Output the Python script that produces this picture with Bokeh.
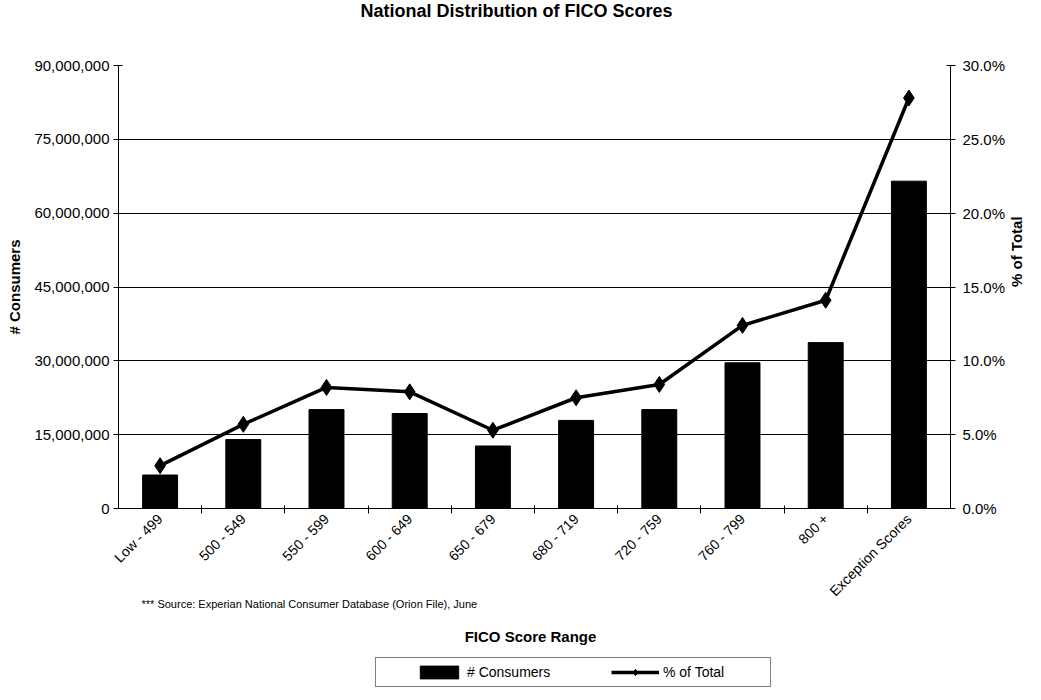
import math
import numpy as np
from bokeh.plotting import figure
from bokeh.layouts import column
from bokeh.models import (Range1d, LinearAxis, FixedTicker, NumeralTickFormatter,
                          PrintfTickFormatter, Legend, LegendItem, Title, Label,
                          ColumnDataSource)
from bokeh.embed import file_html
from bokeh.resources import INLINE

# ---------------- data ----------------
categories = ["Low - 499", "500 - 549", "550 - 599", "600 - 649", "650 - 679",
              "680 - 719", "720 - 759", "760 - 799", "800 +", "Exception Scores"]
consumers = [6.8e6, 14.0e6, 20.1e6, 19.3e6, 12.7e6, 17.9e6, 20.1e6, 29.6e6, 33.7e6, 66.5e6]
pct_of_total = [2.9, 5.7, 8.2, 7.9, 5.3, 7.5, 8.4, 12.4, 14.1, 27.8]
left_ticks = [0, 15e6, 30e6, 45e6, 60e6, 75e6, 90e6]
grid_ticks = [15e6, 30e6, 45e6, 60e6, 75e6]
right_ticks = [0, 5, 10, 15, 20, 25, 30]

title_text = "National Distribution of FICO Scores"
source_text = "*** Source: Experian National Consumer Database (Orion File), June"
x_title = "FICO Score Range"
left_title = "# Consumers"
right_title = "% of Total"
legend_labels = ["# Consumers", "% of Total"]

FONT = "Liberation Sans"

n = len(categories)
xc = (np.arange(n) + 0.5).tolist()
src = ColumnDataSource(dict(x=xc, consumers=consumers, pct=pct_of_total))

# ---------------- main chart ----------------
p = figure(frame_width=832, frame_height=443, x_range=Range1d(0, n), y_range=Range1d(0, 90e6),
           output_backend="svg", toolbar_location=None,
           min_border_left=118, min_border_right=80, min_border_top=0, min_border_bottom=104)
p.extra_y_ranges = {"pct": Range1d(0, 30)}
p.outline_line_color = None
p.background_fill_color = "white"
p.border_fill_color = "white"

bars = p.vbar(x="x", top="consumers", width=0.42, source=src,
              fill_color="black", line_color="black")
ln = p.line("x", "pct", source=src, y_range_name="pct", line_color="black", line_width=3.5)
pts = p.scatter("x", "pct", source=src, y_range_name="pct", marker="diamond", size=16,
                fill_color="black", line_color="black")

# x axis (tick marks between categories, labels at centres)
xa = p.xaxis[0]
xa.ticker = FixedTicker(ticks=xc, minor_ticks=list(range(1, n)))
xa.major_label_overrides = {float(v): c for v, c in zip(xc, categories)}
xa.major_label_orientation = math.pi / 4
xa.major_tick_in = 0
xa.major_tick_out = 0
xa.minor_tick_in = 3
xa.minor_tick_out = 5
xa.minor_tick_line_color = "black"
xa.axis_line_color = "black"
xa.major_label_text_font = FONT
xa.major_label_text_font_size = "14px"
xa.major_label_text_color = "black"
xa.major_label_standoff = 3

# left axis
ya = p.yaxis[0]
ya.ticker = FixedTicker(ticks=left_ticks)
ya.formatter = NumeralTickFormatter(format="0,0")
ya.major_tick_in = 4
ya.major_tick_out = 5
ya.minor_tick_line_color = None
ya.axis_line_color = "black"
ya.major_tick_line_color = "black"
ya.major_label_text_font = FONT
ya.major_label_text_font_size = "15px"
ya.major_label_text_color = "black"
ya.major_label_standoff = 4
ya.axis_label = left_title
ya.axis_label_text_font = FONT
ya.axis_label_text_font_size = "15px"
ya.axis_label_text_font_style = "bold"
ya.axis_label_text_color = "black"
ya.axis_label_standoff = 8

# right axis
ra = LinearAxis(y_range_name="pct", ticker=FixedTicker(ticks=right_ticks),
                formatter=PrintfTickFormatter(format="%.1f%%"), axis_label=right_title)
ra.major_tick_in = 4
ra.major_tick_out = 5
ra.minor_tick_line_color = None
ra.axis_line_color = "black"
ra.major_tick_line_color = "black"
ra.major_label_text_font = FONT
ra.major_label_text_font_size = "15px"
ra.major_label_text_color = "black"
ra.major_label_standoff = 7
ra.axis_label_text_font = FONT
ra.axis_label_text_font_size = "15px"
ra.axis_label_text_font_style = "bold"
ra.axis_label_text_color = "black"
ra.axis_label_standoff = 8
ra.axis_label_orientation = math.pi / 2
p.add_layout(ra, "right")

# grid
p.xgrid.visible = False
p.ygrid.ticker = FixedTicker(ticks=grid_ticks)
p.ygrid.grid_line_color = "black"
p.ygrid.grid_line_alpha = 1.0
p.ygrid.grid_line_width = 1

# top: spacer (nearest the frame) then the chart title
p.add_layout(Title(text=" ", text_font_size="1px", standoff=40), "above")
p.add_layout(Title(text=title_text, align="left", offset=242, vertical_align="top", standoff=0,
                   text_font=FONT, text_font_size="18px", text_font_style="bold",
                   text_color="black"), "above")

# ---------------- footer: source note, x title, legend ----------------
# transparent strip pulled up slightly under the rotated tick labels;
# its frame is aligned with the chart frame, so x is measured from the left axis
f = figure(width=1030, height=94, x_range=Range1d(0, 1), y_range=Range1d(0, 1),
           x_axis_type=None, y_axis_type=None, output_backend="svg", toolbar_location=None,
           min_border=0)
f.margin = (-18, 0, 0, 0)
f.outline_line_color = None
f.xgrid.visible = False
f.ygrid.visible = False
f.background_fill_alpha = 0.0
f.border_fill_alpha = 0.0

f.add_layout(Label(x=23, y=85, x_units="screen", y_units="screen", text=source_text,
                   text_align="left", text_baseline="middle", text_font=FONT,
                   text_font_size="11px", text_color="black"))
f.add_layout(Label(x=412, y=52, x_units="screen", y_units="screen", text=x_title,
                   text_align="center", text_baseline="middle", text_font=FONT,
                   text_font_size="15px", text_font_style="bold", text_color="black"))

# legend swatches: hidden copies of the chart's series (only their legend swatch shows)
lg_bar = f.vbar(x="x", top="consumers", width=0.42, source=src,
                fill_color="black", line_color="black", visible=False)
lg_line = f.line("x", "pct", source=src, line_color="black", line_width=3.5, visible=False)
lg_pts = f.scatter("x", "pct", source=src, marker="diamond", size=14,
                   fill_color="black", line_color="black", visible=False)

legend = Legend(items=[LegendItem(label=legend_labels[0], renderers=[lg_bar]),
                       LegendItem(label=legend_labels[1], renderers=[lg_line, lg_pts])],
                orientation="horizontal", location=(257, 1),
                title=" ", title_location="left", title_text_font_size="1px", title_standoff=32,
                border_line_color="black", border_line_width=1,
                background_fill_color="white", background_fill_alpha=1.0,
                inactive_fill_alpha=0.0,
                label_text_font=FONT, label_text_font_size="14px", label_text_color="black",
                glyph_width=48, glyph_height=16, label_width=101, spacing=43,
                padding=6, margin=0, label_standoff=4)
f.add_layout(legend, "center")

layout = column(p, f, spacing=0)
open("out.html", "w").write(file_html(layout, INLINE))
